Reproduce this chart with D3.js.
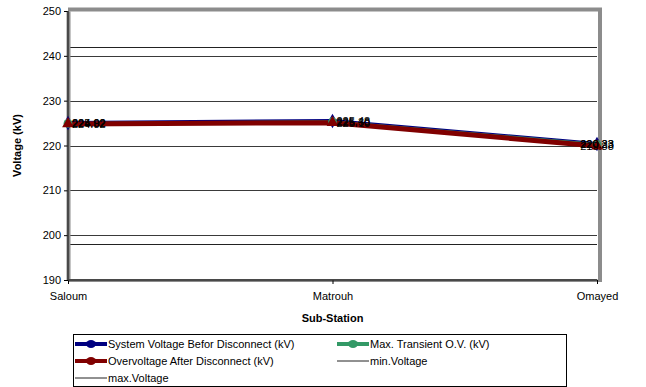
<!DOCTYPE html>
<html>
<head>
<meta charset="utf-8">
<script src="https://cdn.jsdelivr.net/npm/d3@7"></script>
<style>
  body { margin: 0; background: #fff; }
  text { font-family: "Liberation Sans", Arial, sans-serif; }
</style>
</head>
<body>
<div id="chart"></div>
<script>
// data
const stations = ["Saloum", "Matrouh", "Omayed"];
const systemVoltage = [225.02, 225.48, 220.33];
const maxTransient = [224.92, 225.30, 220.23];
const overVoltage = [224.82, 225.10, 219.88];
const minVoltage = 198;
const maxVoltage = 242;
const yTicks = [190, 200, 210, 220, 230, 240, 250];

const series = [
  {name: "System Voltage Befor Disconnect (kV)", values: systemVoltage, color: "#000080", width: 4, marker: d3.symbolDiamond},
  {name: "Max. Transient O.V. (kV)", values: maxTransient, color: "#339966", width: 3, marker: d3.symbolCircle},
  {name: "Overvoltage  After Disconnect (kV)", values: overVoltage, color: "#800000", width: 5, marker: d3.symbolTriangle}
];

const width = 646, height = 387;
const margin = {top: 11, right: 49, bottom: 107, left: 68};

const svg = d3.select("#chart").append("svg")
    .attr("width", width)
    .attr("height", height);

const x = d3.scalePoint()
    .domain(stations)
    .range([margin.left, width - margin.right]);

const y = d3.scaleLinear()
    .domain([190, 250])
    .range([height - margin.bottom, margin.top]);

const x0 = margin.left, x1 = width - margin.right;
const yTop = y(250), yBot = y(190);

// 3d-ish frame shadow
svg.append("path")
    .attr("d", `M${x0},${yTop - 1.5}H${x1 + 3}V${yBot + 2}`)
    .attr("fill", "none")
    .attr("stroke", "#8c8c8c")
    .attr("stroke-width", 4);

// gridlines
svg.append("g")
  .selectAll("line")
  .data(yTicks.filter(d => d > 190 && d < 250))
  .join("line")
    .attr("x1", x0).attr("x2", x1)
    .attr("y1", d => Math.round(y(d)) + 0.5)
    .attr("y2", d => Math.round(y(d)) + 0.5)
    .attr("stroke", "#3a3a3a");

// min / max voltage reference lines
svg.append("g")
  .selectAll("line")
  .data([minVoltage, maxVoltage])
  .join("line")
    .attr("x1", x0).attr("x2", x1)
    .attr("y1", d => Math.round(y(d)) + 0.5)
    .attr("y2", d => Math.round(y(d)) + 0.5)
    .attr("stroke", "#222");

// axes
const yAxis = d3.axisLeft(y).tickValues(yTicks).tickSize(4).tickSizeOuter(0).tickPadding(3);
svg.append("g")
    .attr("transform", `translate(${x0},0)`)
    .call(yAxis)
    .call(g => g.select(".domain").attr("stroke", "#8c8c8c").attr("stroke-width", 4))
    .call(g => g.append("line").attr("y1", yTop).attr("y2", yBot).attr("stroke", "#333").attr("stroke-width", 1.5))
    .call(g => g.selectAll(".tick text").attr("font-size", 11).attr("fill", "#000"));

const xAxis = d3.axisBottom(x).tickSize(4).tickSizeOuter(0).tickPadding(8);
svg.append("g")
    .attr("transform", `translate(0,${yBot})`)
    .call(xAxis)
    .call(g => g.select(".domain").attr("stroke", "#8c8c8c").attr("stroke-width", 3))
    .call(g => g.append("line").attr("x1", x0).attr("x2", x1).attr("stroke", "#333").attr("stroke-width", 1.5))
    .call(g => g.selectAll(".tick text").attr("font-size", 11).attr("fill", "#000"));

// axis titles
svg.append("text")
    .attr("transform", `translate(21,${(yTop + yBot) / 2}) rotate(-90)`)
    .attr("text-anchor", "middle")
    .attr("font-size", 11)
    .attr("font-weight", "bold")
    .text("Voltage (kV)");

svg.append("text")
    .attr("x", (x0 + x1) / 2)
    .attr("y", 322)
    .attr("text-anchor", "middle")
    .attr("font-size", 11)
    .attr("font-weight", "bold")
    .text("Sub-Station");

// series lines
const line = d3.line()
    .x((d, i) => x(stations[i]))
    .y(d => y(d));

for (const s of series) {
  svg.append("path")
      .datum(s.values)
      .attr("fill", "none")
      .attr("stroke", s.color)
      .attr("stroke-width", s.width)
      .attr("d", line);
}

for (const s of series) {
  svg.append("g")
    .selectAll("path")
    .data(s.values)
    .join("path")
      .attr("transform", (d, i) => `translate(${x(stations[i])},${y(d)})`)
      .attr("d", d3.symbol(s.marker, 60))
      .attr("fill", s.color);
}

// data labels
for (const s of series) {
  svg.append("g")
    .selectAll("text")
    .data(s.values)
    .join("text")
      .attr("x", (d, i) => i === stations.length - 1 ? x(stations[i]) : x(stations[i]) + 4)
      .attr("y", d => y(d) + 4)
      .attr("text-anchor", (d, i) => i === stations.length - 1 ? "middle" : "start")
      .attr("font-size", 11)
      .attr("fill", "#000")
      .text(d => d.toFixed(2));
}

// legend
const legend = svg.append("g");
legend.append("rect")
    .attr("x", 73.5).attr("y", 334.5)
    .attr("width", 493).attr("height", 52)
    .attr("fill", "#fff")
    .attr("stroke", "#000");

const legendItems = [
  {name: series[0].name, color: series[0].color, width: 4, marker: true, col: 0, row: 0},
  {name: series[1].name, color: series[1].color, width: 4, marker: true, col: 1, row: 0},
  {name: series[2].name, color: series[2].color, width: 4, marker: true, col: 0, row: 1},
  {name: "min.Voltage", color: "#222", width: 1, marker: false, col: 1, row: 1},
  {name: "max.Voltage", color: "#222", width: 1, marker: false, col: 0, row: 2}
];
const colX = [75, 337], rowY = [344, 361, 378];

const li = legend.selectAll("g.item")
  .data(legendItems)
  .join("g")
    .attr("class", "item")
    .attr("transform", d => `translate(${colX[d.col]},${rowY[d.row]})`);

li.append("line")
    .attr("x1", 0).attr("x2", 32)
    .attr("stroke", d => d.color)
    .attr("stroke-width", d => d.width);

li.filter(d => d.marker).append("ellipse")
    .attr("cx", 16).attr("rx", 5).attr("ry", 4)
    .attr("fill", d => d.color);

li.append("text")
    .attr("x", 33)
    .attr("y", 4)
    .attr("font-size", 11)
    .text(d => d.name);
</script>
</body>
</html>
